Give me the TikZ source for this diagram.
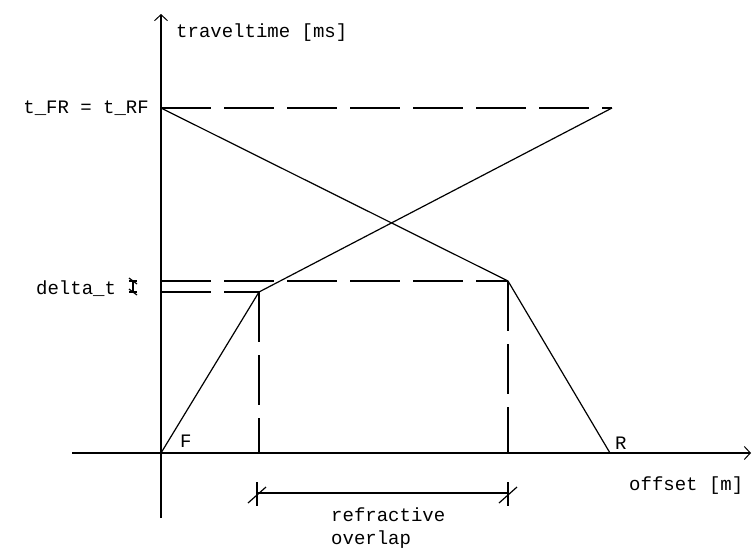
\documentclass[tikz,border=0pt]{standalone}
\usepackage{fontspec}
\setmonofont{Liberation Mono}
\usetikzlibrary{arrows.meta,calc}
\begin{document}
\begin{tikzpicture}[x=1pt,y=-1pt,
  axis/.style={line width=1.4pt,-{Straight Barb[length=6pt,width=13pt,line width=1pt]}},
  curve/.style={line width=1.2pt},
  dsh/.style={line width=1.4pt,dash pattern=on 50pt off 13pt},
  dim/.style={line width=1.2pt},
  lbl/.style={font=\ttfamily\fontsize{19}{23}\selectfont,inner sep=0pt}]
\useasboundingbox (0,0) rectangle (753,555);
\coordinate (O) at (161,453);
\coordinate (A) at (259,292);
\coordinate (B) at (612,108);
\coordinate (R) at (610,453);
\coordinate (C) at (508,281);
\coordinate (T) at (161,108);
\coordinate (D1) at (161,281);
\coordinate (D2) at (161,292);
\coordinate (Ax) at (259,453);
\coordinate (Cx) at (508,453);
\coordinate (xs) at (72,453);
\coordinate (xe) at (751,453);
\coordinate (ys) at (161,518);
\coordinate (ye) at (161,14);
% axes
\draw[axis] (xs) -- (xe);
\draw[axis] (ys) -- (ye);
% dashed guides
\draw[dsh] (T) -- (B);
\draw[dsh] (D1) -- (C);
\draw[dsh] (D2) -- (A);
\draw[dsh] (A) -- (Ax);
\draw[dsh] (C) -- (Cx);
% travel time curves
\draw[curve] (O) -- (A) -- (B);
\draw[curve] (R) -- (C) -- (T);
% overlap dimension
\coordinate (L1) at (257,493);
\coordinate (L2) at (508,493);
\draw[dim] (L1) -- (L2);
\draw[dim] ($(L1)+(0,-11)$) -- ($(L1)+(0,13)$);
\draw[dim] ($(L1)+(-9,10)$) -- ($(L1)+(9,-6)$);
\draw[dim] ($(L2)+(0,-11)$) -- ($(L2)+(0,13)$);
\draw[dim] ($(L2)+(-9,10)$) -- ($(L2)+(9,-6)$);
% delta_t marker
\coordinate (M1) at (133,281);
\coordinate (M2) at (133,292);
\draw[dim] (M1) -- (M2);
\draw[dim] ($(M1)+(-4,-3)$) -- ($(M1)+(4,3)$);
\draw[dim] ($(M2)+(-4,-3)$) -- ($(M2)+(4,3)$);
\draw[dim] ($(M1)+(-4,0)$) -- ($(M1)+(4,0)$);
\draw[dim] ($(M2)+(-4,0)$) -- ($(M2)+(4,0)$);
% labels
\node[lbl,anchor=west] (ylab) at (176,33) {traveltime [ms]};
\node[lbl,anchor=east] (tfr) at (149,108) {t\_FR = t\_RF};
\node[lbl,anchor=west] (dt) at (36,289) {delta\_t};
\node[lbl,anchor=west] (F) at (180,441) {F};
\node[lbl,anchor=west] (Rl) at (615,443) {R};
\node[lbl,anchor=west] (xlab) at (629,486) {offset [m]};
\node[lbl,anchor=north west,align=left] (ov) at (331,508) {refractive\\overlap};
\end{tikzpicture}
\end{document}
